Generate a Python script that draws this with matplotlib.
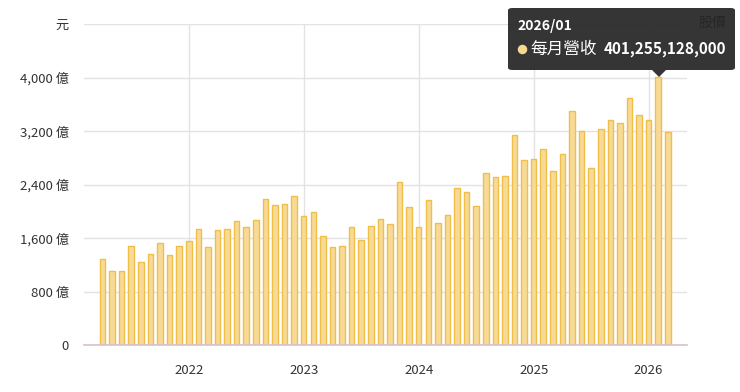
import matplotlib
matplotlib.use("Agg")
import matplotlib.pyplot as plt
from matplotlib.patches import FancyBboxPatch, Polygon, Ellipse

plt.rcParams['font.family'] = ['Noto Sans CJK TC', 'DejaVu Sans']

# Monthly revenue (億元), 2021/03 .. 2026/02
months = [f"{y}/{m:02d}" for y in range(2021, 2027) for m in range(1, 13)][2:62]
revenue = [1283, 1113, 1113, 1473, 1243, 1363, 1523, 1348, 1478, 1553,
           1728, 1458, 1713, 1728, 1853, 1760, 1868, 2183, 2093, 2108,
           2232, 1928, 1992, 1628, 1458, 1473, 1758, 1568, 1773, 1883,
           1808, 2437, 2057, 1758, 2167, 1823, 1947, 2352, 2292, 2072,
           2577, 2512, 2527, 3146, 2767, 2782, 2936, 2607, 2857, 3505,
           3206, 2641, 3236, 3360, 3315, 3690, 3441, 3360, 4012.55, 3191]
year_labels = ["2022", "2023", "2024", "2025", "2026"]
y_ticks = [0, 800, 1600, 2400, 3200, 4000, 4800]
y_labels = ["0", "800 億", "1,600 億", "2,400 億", "3,200 億", "4,000 億", "元"]
tooltip_month = "2026/01"
tooltip_series = "每月營收"
tooltip_value = "401,255,128,000"
legend_other = "股價"

W, H = 740, 392
fig = plt.figure(figsize=(W / 100, H / 100), dpi=100)
ax = fig.add_axes([84 / W, 1 - 345 / H, (687 - 84) / W, (345 - 24) / H])

x = list(range(len(revenue)))
ax.bar(x, revenue, width=0.58, color='#f8da98', edgecolor='#efbf48',
       linewidth=1.0, zorder=3)

# year ticks placed at the December bar (gridline = Jan 1 boundary)
year_pos = [months.index(f"{int(y) - 1}/12") for y in year_labels]
ax.set_xticks(year_pos)
ax.set_xticklabels(year_labels)
ax.set_yticks(y_ticks)
ax.set_yticklabels(y_labels)
ax.set_xlim(-1.93, 61.0)
ax.set_ylim(0, 4800)

ax.grid(True, color='#e3e3e3', linewidth=1.0, zorder=0)
for s in ['top', 'right', 'left']:
    ax.spines[s].set_visible(False)
ax.spines['bottom'].set_color('#d9bfcd')
ax.spines['bottom'].set_linewidth(1.2)
ax.spines['bottom'].set_zorder(4)
ax.tick_params(axis='both', length=0, labelsize=9.5, colors='#333333')
ax.tick_params(axis='y', pad=11)
ax.tick_params(axis='x', pad=14)

# legend text partly behind the tooltip
fig.text(726 / W, 1 - 23 / H, legend_other, ha='right', va='center',
         fontsize=10, color='#333333', zorder=5)

# tooltip
bx0, by0, bx1, by1 = 508, 8, 735, 70
box = FancyBboxPatch((bx0 / W, 1 - by1 / H), (bx1 - bx0) / W, (by1 - by0) / H,
                     boxstyle="round,pad=0,rounding_size=0.006",
                     transform=fig.transFigure, facecolor='#242424', alpha=0.92,
                     edgecolor='none', zorder=10)
fig.add_artist(box)
tip_x = 659
tri = Polygon([((tip_x - 7) / W, 1 - by1 / H), ((tip_x + 7) / W, 1 - by1 / H),
               (tip_x / W, 1 - 77 / H)], closed=True, transform=fig.transFigure,
              facecolor='#242424', alpha=0.92, edgecolor='none', zorder=10)
fig.add_artist(tri)
fig.text(517 / W, 1 - 26 / H, tooltip_month, ha='left', va='center',
         fontsize=10, fontweight='bold', color='white', zorder=11)
dot = Ellipse((522.5 / W, 1 - 49.5 / H), 9.5 / W, 9.5 / H,
              transform=fig.transFigure, facecolor='#f6d98f',
              edgecolor='none', zorder=11)
fig.add_artist(dot)
fig.text(530 / W, 1 - 49 / H, tooltip_series, ha='left', va='center',
         fontsize=12, fontweight='medium', color='white', zorder=11)
fig.text(726 / W, 1 - 49 / H, tooltip_value, ha='right', va='center',
         fontsize=11, fontweight='bold', color='white', zorder=11)

fig.savefig("out.png", dpi=100)
